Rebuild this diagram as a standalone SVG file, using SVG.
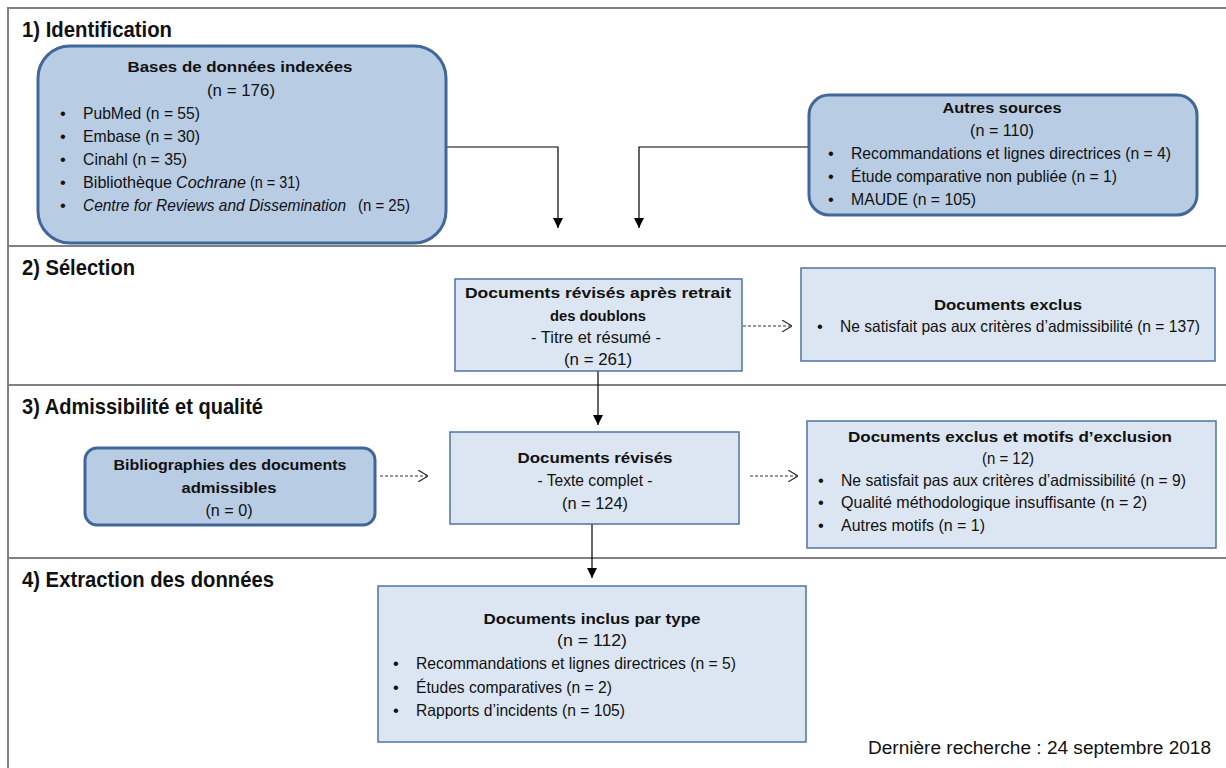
<svg xmlns="http://www.w3.org/2000/svg" width="1226" height="768" viewBox="0 0 1226 768">
<defs>
<marker id="solid" viewBox="0 0 10 10" refX="10" refY="5" markerWidth="10" markerHeight="10" markerUnits="userSpaceOnUse" orient="auto">
<path d="M0,0 L10,5 L0,10 Z" fill="#000"/>
</marker>
<marker id="open" viewBox="0 0 10 12" refX="10" refY="6" markerWidth="10" markerHeight="12" markerUnits="userSpaceOnUse" orient="auto">
<path d="M0,0 L10,6 L0,12" fill="none" stroke="#333" stroke-width="1.2"/>
</marker>
</defs>
<style>
text{font-family:"Liberation Sans Narrow","Liberation Sans",Arial,sans-serif;fill:#111;font-size:16.5px}
.b{font-weight:bold;font-size:15.5px}
.c{text-anchor:middle}
.i{font-style:italic}
.h{font-size:22px;font-weight:bold}
.dark{fill:#b8cce4;stroke:#41679a;stroke-width:3}
.light{fill:#dce6f2;stroke:#4f74a4;stroke-width:1.5}
.div{stroke:#808080;stroke-width:2;fill:none}
.con{stroke:#000;stroke-width:1.2;fill:none}
.dash{stroke:#333;stroke-width:1.2;fill:none;stroke-dasharray:3,2}
</style>
<rect width="1226" height="768" fill="#fff"/>
<g id="frame">
<path class="div" d="M8,768 V8 H1226"/>
<line class="div" x1="8" y1="246" x2="1226" y2="246"/>
<line class="div" x1="8" y1="385" x2="1226" y2="385"/>
<line class="div" x1="8" y1="558" x2="1226" y2="558"/>
<text class="h" x="22" y="37" textLength="150" lengthAdjust="spacingAndGlyphs">1) Identification</text>
<text class="h" x="22" y="275" textLength="113" lengthAdjust="spacingAndGlyphs">2) Sélection</text>
<text class="h" x="22" y="414" textLength="241" lengthAdjust="spacingAndGlyphs">3) Admissibilité et qualité</text>
<text class="h" x="22" y="587" textLength="252" lengthAdjust="spacingAndGlyphs">4) Extraction des données</text>
</g>
<g id="connectors">
<path class="con" d="M446,147 H558 V228" marker-end="url(#solid)"/>
<path class="con" d="M809,147 H639 V228" marker-end="url(#solid)"/>
<path class="dash" d="M743,326 H792" marker-end="url(#open)"/>
<path class="con" d="M598,371 V425" marker-end="url(#solid)"/>
<path class="dash" d="M380,476 H428" marker-end="url(#open)"/>
<path class="dash" d="M750,476 H798" marker-end="url(#open)"/>
<path class="con" d="M592,524 V578" marker-end="url(#solid)"/>
</g>
<g id="bases">
<rect class="dark" x="38" y="46" width="408" height="197" rx="32"/>
<text class="b c" x="240" y="72" textLength="225" lengthAdjust="spacingAndGlyphs">Bases de données indexées</text>
<text class="c" x="241" y="96" textLength="68" lengthAdjust="spacingAndGlyphs">(n = 176)</text>
<text x="60" y="119">•</text><text x="83" y="119" textLength="117" lengthAdjust="spacingAndGlyphs">PubMed (n = 55)</text>
<text x="60" y="142">•</text><text x="83" y="142" textLength="117" lengthAdjust="spacingAndGlyphs">Embase (n = 30)</text>
<text x="60" y="165">•</text><text x="83" y="165" textLength="104" lengthAdjust="spacingAndGlyphs">Cinahl (n = 35)</text>
<text x="60" y="188">•</text><text x="83" y="188" textLength="89" lengthAdjust="spacingAndGlyphs">Bibliothèque</text>
<text class="i" x="176" y="188" textLength="70" lengthAdjust="spacingAndGlyphs">Cochrane</text>
<text x="250" y="188" textLength="50" lengthAdjust="spacingAndGlyphs">(n = 31)</text>
<text x="60" y="211">•</text><text class="i" x="83" y="211" textLength="263" lengthAdjust="spacingAndGlyphs">Centre for Reviews and Dissemination</text>
<text x="358" y="211" textLength="52" lengthAdjust="spacingAndGlyphs">(n = 25)</text>
</g>
<g id="autres">
<rect class="dark" x="809" y="95" width="388" height="120" rx="20"/>
<text class="b c" x="1002" y="113" textLength="119" lengthAdjust="spacingAndGlyphs">Autres sources</text>
<text class="c" x="1002" y="136" textLength="64" lengthAdjust="spacingAndGlyphs">(n = 110)</text>
<text x="828" y="159">•</text><text x="851" y="159" textLength="320" lengthAdjust="spacingAndGlyphs">Recommandations et lignes directrices (n = 4)</text>
<text x="828" y="182">•</text><text x="851" y="182" textLength="266" lengthAdjust="spacingAndGlyphs">Étude comparative non publiée (n = 1)</text>
<text x="828" y="205">•</text><text x="851" y="205" textLength="125" lengthAdjust="spacingAndGlyphs">MAUDE (n = 105)</text>
</g>
<g id="doublons">
<rect class="light" x="455" y="279" width="287" height="92"/>
<text class="b c" x="598" y="298" textLength="266" lengthAdjust="spacingAndGlyphs">Documents révisés après retrait</text>
<text class="b c" x="598" y="321" textLength="96" lengthAdjust="spacingAndGlyphs">des doublons</text>
<text class="c" x="596" y="343" textLength="130" lengthAdjust="spacingAndGlyphs">- Titre et résumé -</text>
<text class="c" x="598" y="365" textLength="68" lengthAdjust="spacingAndGlyphs">(n = 261)</text>
</g>
<g id="exclus1">
<rect class="light" x="801" y="268" width="414" height="93"/>
<text class="b c" x="1008" y="310" textLength="148" lengthAdjust="spacingAndGlyphs">Documents exclus</text>
<text x="817" y="332">•</text><text x="840" y="332" textLength="360" lengthAdjust="spacingAndGlyphs">Ne satisfait pas aux critères d’admissibilité (n = 137)</text>
</g>
<g id="biblio">
<rect class="dark" x="85" y="448" width="290" height="77" rx="12"/>
<text class="b c" x="230" y="470" textLength="233" lengthAdjust="spacingAndGlyphs">Bibliographies des documents</text>
<text class="b c" x="229" y="493" textLength="95" lengthAdjust="spacingAndGlyphs">admissibles</text>
<text class="c" x="229" y="516" textLength="47" lengthAdjust="spacingAndGlyphs">(n = 0)</text>
</g>
<g id="revises">
<rect class="light" x="450" y="432" width="289" height="92"/>
<text class="b c" x="595" y="463" textLength="155" lengthAdjust="spacingAndGlyphs">Documents révisés</text>
<text class="c" x="595" y="486" textLength="115" lengthAdjust="spacingAndGlyphs">- Texte complet -</text>
<text class="c" x="595" y="509" textLength="66" lengthAdjust="spacingAndGlyphs">(n = 124)</text>
</g>
<g id="exclus2">
<rect class="light" x="807" y="421" width="409" height="127"/>
<text class="b c" x="1010" y="442" textLength="324" lengthAdjust="spacingAndGlyphs">Documents exclus et motifs d’exclusion</text>
<text class="c" x="1008" y="464" textLength="52" lengthAdjust="spacingAndGlyphs">(n = 12)</text>
<text x="818" y="486">•</text><text x="841" y="486" textLength="345" lengthAdjust="spacingAndGlyphs">Ne satisfait pas aux critères d’admissibilité (n = 9)</text>
<text x="818" y="508">•</text><text x="841" y="508" textLength="306" lengthAdjust="spacingAndGlyphs">Qualité méthodologique insuffisante  (n = 2)</text>
<text x="818" y="531">•</text><text x="841" y="531" textLength="144" lengthAdjust="spacingAndGlyphs">Autres motifs (n = 1)</text>
</g>
<g id="inclus">
<rect class="light" x="378" y="586" width="428" height="156"/>
<text class="b c" x="592" y="624" textLength="217" lengthAdjust="spacingAndGlyphs">Documents inclus par type</text>
<text class="c" x="592" y="646" textLength="70" lengthAdjust="spacingAndGlyphs">(n = 112)</text>
<text x="393" y="669">•</text><text x="416" y="669" textLength="320" lengthAdjust="spacingAndGlyphs">Recommandations et lignes directrices (n = 5)</text>
<text x="393" y="693">•</text><text x="416" y="693" textLength="196" lengthAdjust="spacingAndGlyphs">Études comparatives (n = 2)</text>
<text x="393" y="716">•</text><text x="416" y="716" textLength="209" lengthAdjust="spacingAndGlyphs">Rapports d’incidents (n = 105)</text>
</g>
<g id="footer">
<text x="868" y="754" style="font-size:18px" textLength="343" lengthAdjust="spacingAndGlyphs">Dernière recherche : 24 septembre 2018</text>
</g>
</svg>
